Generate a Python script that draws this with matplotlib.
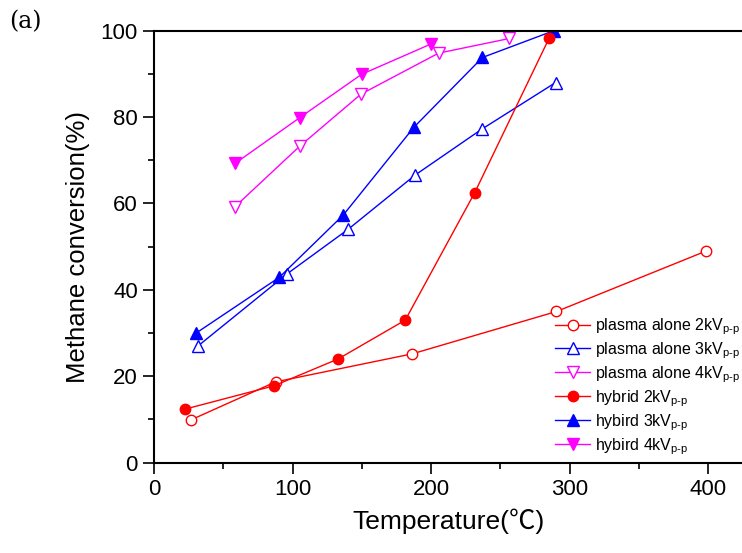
import matplotlib
matplotlib.use("Agg")
import matplotlib.pyplot as plt

plt.rcParams['font.family'] = ['Liberation Sans', 'Noto Sans CJK KR', 'DejaVu Sans']
plt.rcParams['mathtext.fontset'] = 'custom'
plt.rcParams['mathtext.rm'] = 'Liberation Sans'
plt.rcParams['mathtext.it'] = 'Liberation Sans'

# plasma alone
pa2_x = [26.6, 87.7, 186.4, 290.4, 398.4]
pa2_y = [9.9, 18.7, 25.2, 35.0, 49.0]
pa3_x = [31.7, 96.0, 140.0, 188.5, 236.5, 289.8]
pa3_y = [27.0, 43.7, 54.0, 66.6, 77.2, 88.0]
pa4_x = [58.6, 105.3, 149.3, 205.3, 256.5]
pa4_y = [59.3, 73.3, 85.3, 94.8, 98.2]

# hybrid
hy2_x = [22.4, 86.6, 132.8, 181.3, 231.4, 285.3]
hy2_y = [12.4, 17.8, 24.0, 33.0, 62.5, 98.4]
hy3_x = [30.4, 90.4, 136.5, 187.4, 237.0, 288.5]
hy3_y = [30.0, 42.9, 57.3, 77.6, 93.8, 100.0]
hy4_x = [58.6, 105.3, 149.8, 199.7]
hy4_y = [69.3, 79.9, 89.9, 96.9]

sub = r'$_{\rm p\text{-}p}$'

fig = plt.figure(figsize=(7.42, 5.53), dpi=100)
ax = fig.add_axes([0.2075, 0.1633, 0.934, 0.7812])

ax.plot(pa2_x, pa2_y, '-o', color='red', mfc='white', mec='red', ms=7.5, lw=1, label='plasma alone 2kV' + sub)
ax.plot(pa3_x, pa3_y, '-^', color='blue', mfc='white', mec='blue', ms=8.5, lw=1, label='plasma alone 3kV' + sub)
ax.plot(pa4_x, pa4_y, '-v', color='magenta', mfc='white', mec='magenta', ms=8.5, lw=1, label='plasma alone 4kV' + sub)
ax.plot(hy3_x, hy3_y, '-^', color='blue', ms=8.5, lw=1, label='hybird 3kV' + sub)
ax.plot(hy2_x, hy2_y, '-o', color='red', ms=7.5, lw=1, label='hybrid 2kV' + sub)
ax.plot(hy4_x, hy4_y, '-v', color='magenta', ms=8.5, lw=1, label='hybird 4kV' + sub)

ax.set_xlim(0, 500)
ax.set_ylim(0, 100)
ax.set_xticks([0, 100, 200, 300, 400])
ax.set_xticks([50, 150, 250, 350, 450], minor=True)
ax.set_yticks(range(0, 101, 20))
ax.set_yticks(range(10, 100, 20), minor=True)
ax.tick_params(which='major', direction='out', length=8, width=1.2, labelsize=16)
ax.tick_params(which='minor', direction='out', length=4, width=1.2)
for s in ['left', 'bottom', 'top']:
    ax.spines[s].set_linewidth(1.5)
ax.spines['right'].set_visible(False)

ax.set_xlabel('Temperature(℃)', fontsize=19)
ax.xaxis.set_label_coords(0.425, -0.105)
ax.set_ylabel('Methane conversion(%)', fontsize=18.5, labelpad=8)

h, l = ax.get_legend_handles_labels()
order = [0, 1, 2, 4, 3, 5]
ax.legend([h[i] for i in order], [l[i] for i in order], loc='lower left',
          bbox_to_anchor=(0.565, -0.008), frameon=False, fontsize=11.5,
          handlelength=2.2, handletextpad=0.3, labelspacing=0.21, borderaxespad=0.2)

fig.text(0.012, 0.96, '(a)', fontsize=17, family='DejaVu Serif', va='center')

fig.savefig('out.png', dpi=100)
